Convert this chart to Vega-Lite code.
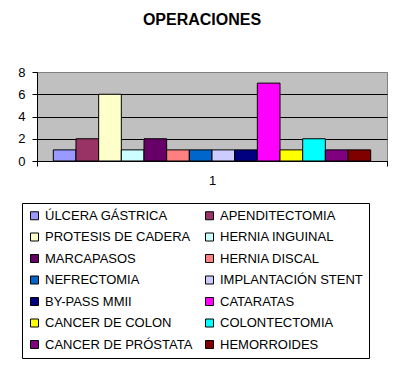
{
  "$schema": "https://vega.github.io/schema/vega-lite/v6.json",
  "width": 350,
  "height": 89,
  "autosize": {"type": "none"},
  "padding": {"left": 37, "top": 72, "right": 17, "bottom": 209},
  "background": "white",
  "title": {
    "text": "OPERACIONES",
    "font": "Liberation Sans",
    "fontSize": 16,
    "fontWeight": "bold",
    "color": "black",
    "anchor": "middle",
    "dx": -10,
    "offset": 38
  },
  "data": {
    "values": [
      {"cat": "1", "op": "ÚLCERA GÁSTRICA", "n": 1},
      {"cat": "1", "op": "APENDITECTOMIA", "n": 2},
      {"cat": "1", "op": "PROTESIS DE CADERA", "n": 6},
      {"cat": "1", "op": "HERNIA INGUINAL", "n": 1},
      {"cat": "1", "op": "MARCAPASOS", "n": 2},
      {"cat": "1", "op": "HERNIA DISCAL", "n": 1},
      {"cat": "1", "op": "NEFRECTOMIA", "n": 1},
      {"cat": "1", "op": "IMPLANTACIÓN STENT", "n": 1},
      {"cat": "1", "op": "BY-PASS MMII", "n": 1},
      {"cat": "1", "op": "CATARATAS", "n": 7},
      {"cat": "1", "op": "CANCER DE COLON", "n": 1},
      {"cat": "1", "op": "COLONTECTOMIA", "n": 2},
      {"cat": "1", "op": "CANCER DE PRÓSTATA", "n": 1},
      {"cat": "1", "op": "HEMORROIDES", "n": 1}
    ]
  },
  "mark": {"type": "bar", "stroke": "black", "strokeWidth": 1},
  "encoding": {
    "x": {
      "field": "cat",
      "type": "nominal",
      "scale": {"paddingInner": 0, "paddingOuter": 0},
      "axis": {
        "title": null,
        "labelAngle": 0,
        "labelFont": "Liberation Sans",
        "labelFontSize": 13,
        "labelColor": "black",
        "labelPadding": 8,
        "tickBand": "extent",
        "tickSize": 5,
        "tickColor": "black",
        "domainColor": "black"
      }
    },
    "xOffset": {
      "field": "op",
      "type": "nominal",
      "scale": {
        "domain": ["ÚLCERA GÁSTRICA", "APENDITECTOMIA", "PROTESIS DE CADERA", "HERNIA INGUINAL", "MARCAPASOS", "HERNIA DISCAL", "NEFRECTOMIA", "IMPLANTACIÓN STENT", "BY-PASS MMII", "CATARATAS", "CANCER DE COLON", "COLONTECTOMIA", "CANCER DE PRÓSTATA", "HEMORROIDES"],
        "paddingInner": 0,
        "paddingOuter": 0.72
      }
    },
    "y": {
      "field": "n",
      "type": "quantitative",
      "scale": {"domain": [0, 8], "nice": false},
      "axis": {
        "title": null,
        "values": [0, 2, 4, 6, 8],
        "labelFont": "Liberation Sans",
        "labelFontSize": 13,
        "labelColor": "black",
        "labelPadding": 7,
        "tickSize": 5,
        "tickColor": "black",
        "domainColor": "black",
        "grid": true,
        "gridColor": {"condition": {"test": "datum.value == 8", "value": "#808080"}, "value": "black"},
        "gridOpacity": 1
      }
    },
    "color": {
      "field": "op",
      "type": "nominal",
      "scale": {
        "domain": ["ÚLCERA GÁSTRICA", "PROTESIS DE CADERA", "MARCAPASOS", "NEFRECTOMIA", "BY-PASS MMII", "CANCER DE COLON", "CANCER DE PRÓSTATA", "APENDITECTOMIA", "HERNIA INGUINAL", "HERNIA DISCAL", "IMPLANTACIÓN STENT", "CATARATAS", "COLONTECTOMIA", "HEMORROIDES"],
        "range": ["#9999FF", "#FFFFCC", "#660066", "#0066CC", "#000080", "#FFFF00", "#800080", "#993366", "#CCFFFF", "#FF8080", "#CCCCFF", "#FF00FF", "#00FFFF", "#800000"]
      },
      "legend": {
        "title": null,
        "orient": "none",
        "legendX": -15,
        "legendY": 131,
        "columns": 2,
        "columnPadding": 10,
        "rowPadding": 7.5,
        "padding": 6,
        "strokeColor": "black",
        "symbolType": "square",
        "symbolSize": 64,
        "symbolStrokeColor": "black",
        "symbolStrokeWidth": 1,
        "symbolOpacity": 1,
        "labelFont": "Liberation Sans",
        "labelFontSize": 13,
        "labelColor": "black",
        "labelOffset": 4,
        "labelLimit": 300
      }
    }
  },
  "config": {
    "view": {"fill": "#C0C0C0", "stroke": "#808080", "strokeWidth": 1},
    "axis": {"domainWidth": 1, "tickWidth": 1, "gridWidth": 1}
  }
}
